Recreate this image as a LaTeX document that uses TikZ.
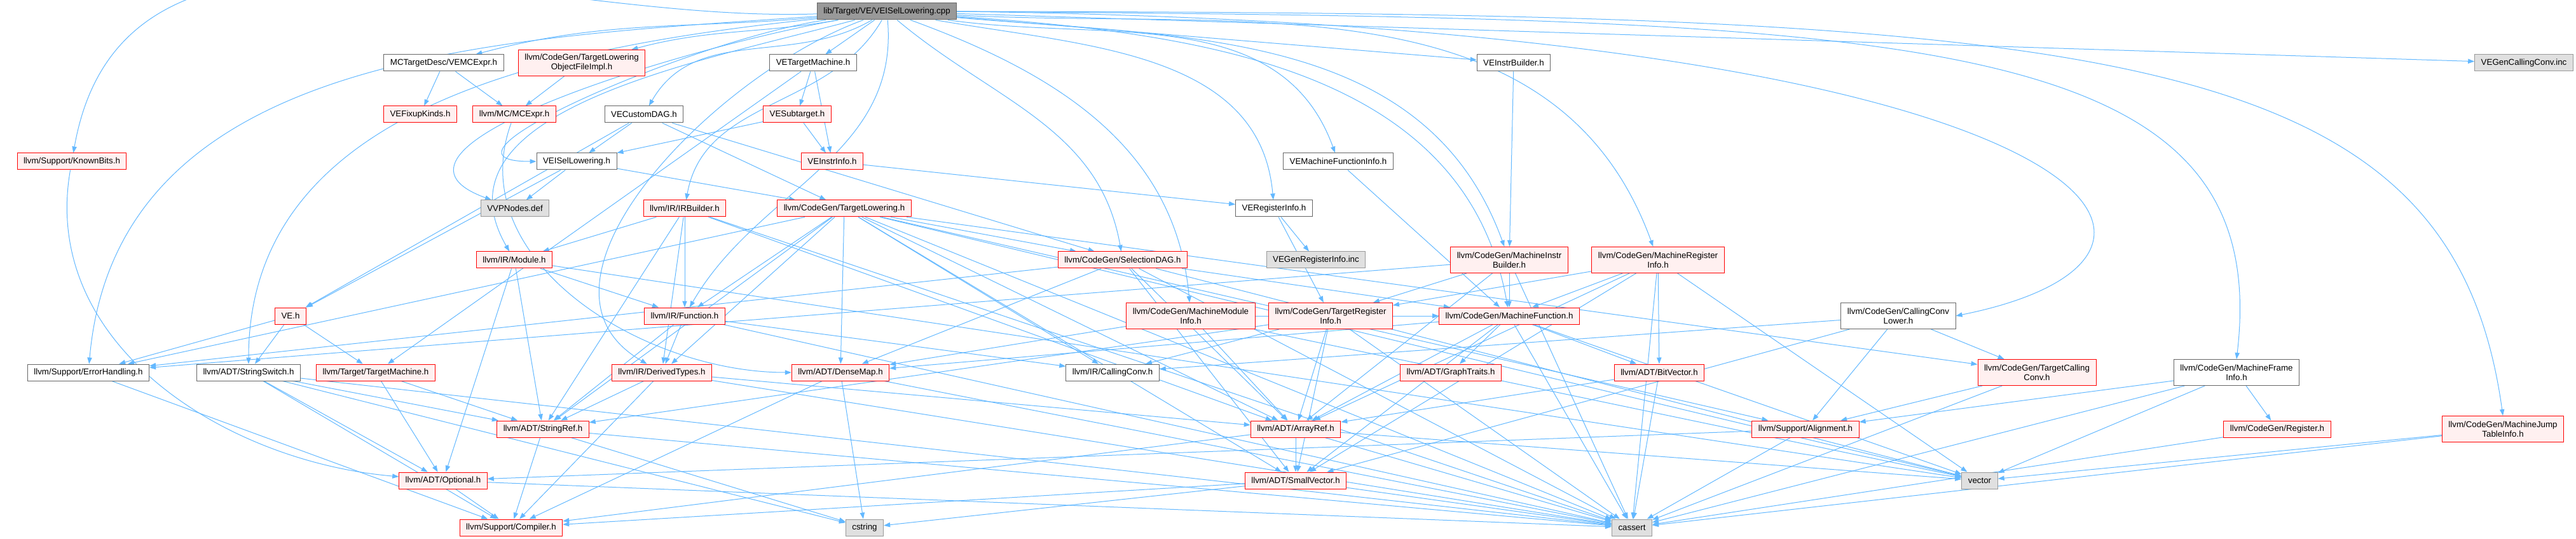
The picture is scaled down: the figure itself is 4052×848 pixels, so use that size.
\documentclass[tikz,border=0pt]{standalone}
\usepackage{fontspec}
\setmainfont{Liberation Sans}
\usepackage{xcolor}
\usetikzlibrary{arrows.meta}

\definecolor{edgeblue}{HTML}{63B8FF}
\definecolor{boxred}{HTML}{FF0000}
\definecolor{boxpink}{HTML}{FFF0F0}
\definecolor{boxgrey}{HTML}{666666}
\definecolor{sysgrey}{HTML}{999999}
\definecolor{sysfill}{HTML}{E0E0E0}
\definecolor{rootfill}{HTML}{999999}

\pgfdeclarelayer{background}
\pgfsetlayers{background,main}

\begin{document}
\begin{tikzpicture}[
	x=0.75pt, y=-0.75pt,
	font=\fontsize{10}{11.25}\selectfont,
	incbox/.style = {draw, line width=0.75pt, inner xsep=7.5pt, inner ysep=0pt, minimum height=19.5pt, align=center},
	tall/.style = {minimum height=30.75pt},
	redbox/.style = {incbox, draw=boxred, fill=boxpink},
	whitebox/.style = {incbox, draw=boxgrey, fill=white},
	sysbox/.style = {incbox, draw=sysgrey, fill=sysfill},
	rootbox/.style = {incbox, draw=boxgrey, fill=rootfill},
	arrow/.style = {draw=edgeblue, line width=0.75pt, -{Triangle[length=7.5pt, width=5.5pt]}}
	]
	\useasboundingbox (0,0) rectangle (4052,848);

	\node[rootbox] (root) at (1395,18) {lib/Target/VE/VEISelLowering.cpp};

	\node[whitebox] (vemcexpr) at (698,99) {MCTargetDesc/VEMCExpr.h};
	\node[redbox, tall] (tlof) at (915,99) {llvm/CodeGen/TargetLowering\\ObjectFileImpl.h};
	\node[whitebox] (vetm) at (1279,99) {VETargetMachine.h};
	\node[whitebox] (veib) at (2381,99) {VEInstrBuilder.h};
	\node[sysbox] (vegencc) at (3970,99) {VEGenCallingConv.inc};

	\node[redbox] (fixup) at (661,180) {VEFixupKinds.h};
	\node[redbox] (mcexpr) at (809,180) {llvm/MC/MCExpr.h};
	\node[whitebox] (customdag) at (1013,180) {VECustomDAG.h};
	\node[redbox] (vesub) at (1254,180) {VESubtarget.h};

	\node[redbox] (knownbits) at (113,254) {llvm/Support/KnownBits.h};
	\node[whitebox] (veisel) at (907,254) {VEISelLowering.h};
	\node[redbox] (veinstr) at (1309,254) {VEInstrInfo.h};
	\node[whitebox] (vemfi) at (2105,254) {VEMachineFunctionInfo.h};

	\node[sysbox] (vvp) at (810,328) {VVPNodes.def};
	\node[redbox] (irb) at (1077,328) {llvm/IR/IRBuilder.h};
	\node[redbox] (tl) at (1328,328) {llvm/CodeGen/TargetLowering.h};
	\node[whitebox] (vereg) at (2004,328) {VERegisterInfo.h};

	\node[redbox] (module) at (809,409) {llvm/IR/Module.h};
	\node[redbox] (sdag) at (1766,409) {llvm/CodeGen/SelectionDAG.h};
	\node[sysbox] (vegenreg) at (2070,409) {VEGenRegisterInfo.inc};
	\node[redbox, tall] (mib) at (2374,409) {llvm/CodeGen/MachineInstr\\Builder.h};
	\node[redbox, tall] (mri) at (2608,409) {llvm/CodeGen/MachineRegister\\Info.h};

	\node[redbox] (veh) at (457,497) {VE.h};
	\node[redbox] (func) at (1077,497) {llvm/IR/Function.h};
	\node[redbox, tall] (mmi) at (1873,497) {llvm/CodeGen/MachineModule\\Info.h};
	\node[redbox, tall] (tri) at (2093,497) {llvm/CodeGen/TargetRegister\\Info.h};
	\node[redbox] (mf) at (2374,497) {llvm/CodeGen/MachineFunction.h};
	\node[whitebox, tall] (ccl) at (2986,497) {llvm/CodeGen/CallingConv\\Lower.h};

	\node[whitebox] (errh) at (139,586) {llvm/Support/ErrorHandling.h};
	\node[whitebox] (sswitch) at (391,586) {llvm/ADT/StringSwitch.h};
	\node[redbox] (tm) at (591,586) {llvm/Target/TargetMachine.h};
	\node[redbox] (dtypes) at (1041,586) {llvm/IR/DerivedTypes.h};
	\node[redbox] (densemap) at (1322,586) {llvm/ADT/DenseMap.h};
	\node[whitebox] (cconv) at (1750,586) {llvm/IR/CallingConv.h};
	\node[redbox] (graph) at (2282,586) {llvm/ADT/GraphTraits.h};
	\node[redbox] (bitvec) at (2610,586) {llvm/ADT/BitVector.h};
	\node[redbox, tall] (tcc) at (3204,586) {llvm/CodeGen/TargetCalling\\Conv.h};
	\node[whitebox, tall] (mfi) at (3518,586) {llvm/CodeGen/MachineFrame\\Info.h};

	\node[redbox] (strref) at (854,675) {llvm/ADT/StringRef.h};
	\node[redbox] (arrref) at (2038,675) {llvm/ADT/ArrayRef.h};
	\node[redbox] (align) at (2840,675) {llvm/Support/Alignment.h};
	\node[redbox] (reg) at (3582,675) {llvm/CodeGen/Register.h};
	\node[redbox, tall] (mjti) at (3937,675) {llvm/CodeGen/MachineJump\\TableInfo.h};

	\node[redbox] (optional) at (697,756) {llvm/ADT/Optional.h};
	\node[redbox] (smallvec) at (2038,756) {llvm/ADT/SmallVector.h};
	\node[sysbox] (vector) at (3114,756) {vector};

	\node[redbox] (compiler) at (804,830) {llvm/Support/Compiler.h};
	\node[sysbox] (cstring) at (1360,830) {cstring};
	\node[sysbox] (cassert) at (2567,830) {cassert};

	\begin{pgfonlayer}{background}
	\draw[arrow] (root) to[out=182,in=80] (knownbits);
	\draw[arrow] (root) to[out=184,in=85] (errh);
	\draw[arrow] (root) to[out=186,in=90] (sswitch);
	\draw[arrow] (root) to[out=188,in=180] (veisel);
	\draw[arrow] (root) to[out=190,in=160] (vvp);
	\draw[arrow] (root) to[out=195,in=120] (module);
	\draw[arrow] (root) to[out=-160,in=150] (dtypes);
	\draw[arrow] (root) to[out=185,in=15] (vemcexpr);
	\draw[arrow] (root) to[out=190,in=15] (tlof);
	\draw[arrow] (root) -- (vetm);
	\draw[arrow] (root) to[out=-150,in=60] (customdag);
	\draw[arrow] (root) to[out=-120,in=80] (irb);
	\draw[arrow] (root) to[out=-85,in=60] (func);
	\draw[arrow] (root) to[out=-40,in=100] (sdag);
	\draw[arrow] (root) to[out=-20,in=95] (mmi);
	\draw[arrow] (root) to[out=-10,in=95] (vereg);
	\draw[arrow] (root) to[out=-8,in=110] (vemfi);
	\draw[arrow] (root) -- (veib);
	\draw[arrow] (root) to[out=-5,in=110] (mib);
	\draw[arrow] (root) to[out=-4,in=100] (mf);
	\draw[arrow] (root) to[out=-3,in=110] (mri);
	\draw[arrow] (root.east) .. controls (3300,40) and (3560,400) .. (ccl.east);
	\draw[arrow] (root.east) .. controls (3000,30) and (3580,40) .. (mfi.north);
	\draw[arrow] (root.east) .. controls (3300,20) and (3855,60) .. (mjti.north);
	\draw[arrow] (root) -- (vegencc);

	\draw[arrow] (vemcexpr) -- (fixup);
	\draw[arrow] (vemcexpr) -- (mcexpr);
	\draw[arrow] (tlof) -- (mcexpr);
	\draw[arrow] (vetm) -- (vesub);
	\draw[arrow] (vetm) -- (veinstr);
	\draw[arrow] (vetm) -- (tm);
	\draw[arrow] (vesub) -- (veisel);
	\draw[arrow] (vesub) -- (veinstr);
	\draw[arrow] (customdag) -- (veisel);
	\draw[arrow] (customdag) -- (veh);
	\draw[arrow] (customdag) -- (tl);
	\draw[arrow] (customdag) -- (sdag);
	\draw[arrow] (veisel) -- (vvp);
	\draw[arrow] (veisel) -- (veh);
	\draw[arrow] (veisel) -- (tl);
	\draw[arrow] (veinstr) -- (vereg);
	\draw[arrow] (vemfi) -- (mf);
	\draw[arrow] (veib) -- (mib);
	\draw[arrow] (vereg) -- (vegenreg);
	\draw[arrow] (vereg) -- (tri);
	\draw[arrow] (mcexpr) to[out=-110,in=180] (densemap);

	\draw[arrow] (veh) -- (errh);
	\draw[arrow] (veh) -- (sswitch);
	\draw[arrow] (veh) -- (tm);
	\draw[arrow] (knownbits) to[out=-100,in=175] (optional);
	\draw[arrow] (errh) -- (compiler);
	\draw[arrow] (sswitch) -- (strref);
	\draw[arrow] (sswitch) -- (compiler);
	\draw[arrow] (sswitch) -- (optional);
	\draw[arrow] (sswitch) -- (cstring);
	\draw[arrow] (sswitch) -- (cassert);
	\draw[arrow] (tm) -- (optional);
	\draw[arrow] (tm) -- (strref);
	\draw[arrow] (optional) -- (compiler);
	\draw[arrow] (optional) -- (cassert);
	\draw[arrow] (strref) -- (compiler);
	\draw[arrow] (strref) -- (cstring);
	\draw[arrow] (strref) -- (cassert);

	\draw[arrow] (irb) -- (module);
	\draw[arrow] (irb) -- (func);
	\draw[arrow] (irb) -- (dtypes);
	\draw[arrow] (irb) -- (strref);
	\draw[arrow] (irb) -- (arrref);
	\draw[arrow] (irb) -- (cassert);
	\draw[arrow] (module) -- (func);
	\draw[arrow] (module) -- (strref);
	\draw[arrow] (module) -- (optional);
	\draw[arrow] (module) -- (vector);
	\draw[arrow] (func) -- (strref);
	\draw[arrow] (func) -- (cconv);
	\draw[arrow] (func) -- (dtypes);
	\draw[arrow] (func) -- (cassert);
	\draw[arrow] (dtypes) -- (strref);
	\draw[arrow] (dtypes) -- (compiler);
	\draw[arrow] (dtypes) -- (arrref);
	\draw[arrow] (dtypes) -- (cassert);

	\draw[arrow] (tl) -- (arrref);
	\draw[arrow] (tl) -- (densemap);
	\draw[arrow] (tl) -- (smallvec);
	\draw[arrow] (tl) -- (strref);
	\draw[arrow] (tl) -- (sdag);
	\draw[arrow] (tl) -- (tcc);
	\draw[arrow] (tl) -- (cconv);
	\draw[arrow] (tl) -- (dtypes);
	\draw[arrow] (tl) -- (func);
	\draw[arrow] (tl) -- (errh);
	\draw[arrow] (tl) -- (align);
	\draw[arrow] (tl) -- (cassert);
	\draw[arrow] (tl) -- (vector);

	\draw[arrow] (sdag) -- (arrref);
	\draw[arrow] (sdag) -- (densemap);
	\draw[arrow] (sdag) -- (smallvec);
	\draw[arrow] (sdag) -- (mf);
	\draw[arrow] (sdag) -- (errh);
	\draw[arrow] (sdag) -- (cassert);
	\draw[arrow] (sdag) -- (vector);
	\draw[arrow] (mmi) -- (arrref);
	\draw[arrow] (mmi) -- (densemap);
	\draw[arrow] (mmi) -- (mf);
	\draw[arrow] (mmi) -- (vector);
	\draw[arrow] (tri) -- (arrref);
	\draw[arrow] (tri) -- (smallvec);
	\draw[arrow] (tri) -- (strref);
	\draw[arrow] (tri) -- (cconv);
	\draw[arrow] (tri) -- (cassert);

	\draw[arrow] (mf) -- (arrref);
	\draw[arrow] (mf) -- (bitvec);
	\draw[arrow] (mf) -- (densemap);
	\draw[arrow] (mf) -- (graph);
	\draw[arrow] (mf) -- (smallvec);
	\draw[arrow] (mf) -- (cassert);
	\draw[arrow] (mf) -- (vector);
	\draw[arrow] (mib) -- (arrref);
	\draw[arrow] (mib) -- (mf);
	\draw[arrow] (mib) -- (tri);
	\draw[arrow] (mib) -- (errh);
	\draw[arrow] (mib) -- (cassert);
	\draw[arrow] (mri) -- (arrref);
	\draw[arrow] (mri) -- (bitvec);
	\draw[arrow] (mri) -- (smallvec);
	\draw[arrow] (mri) -- (mf);
	\draw[arrow] (mri) -- (tri);
	\draw[arrow] (mri) -- (cassert);
	\draw[arrow] (mri) -- (vector);

	\draw[arrow] (ccl) -- (smallvec);
	\draw[arrow] (ccl) -- (tcc);
	\draw[arrow] (ccl) -- (cconv);
	\draw[arrow] (ccl) -- (align);
	\draw[arrow] (tcc) -- (align);
	\draw[arrow] (tcc) -- (cassert);
	\draw[arrow] (mfi) -- (reg);
	\draw[arrow] (mfi) -- (align);
	\draw[arrow] (mfi) -- (cassert);
	\draw[arrow] (mfi) -- (vector);
	\draw[arrow] (mjti) -- (cassert);
	\draw[arrow] (mjti) -- (vector);
	\draw[arrow] (reg) -- (cassert);
	\draw[arrow] (bitvec) -- (arrref);
	\draw[arrow] (bitvec) -- (cassert);
	\draw[arrow] (align) -- (optional);
	\draw[arrow] (align) -- (cassert);

	\draw[arrow] (arrref) -- (smallvec);
	\draw[arrow] (arrref) -- (compiler);
	\draw[arrow] (arrref) -- (cassert);
	\draw[arrow] (arrref) -- (vector);
	\draw[arrow] (smallvec) -- (compiler);
	\draw[arrow] (smallvec) -- (cassert);
	\draw[arrow] (smallvec) -- (cstring);
	\draw[arrow] (densemap) -- (compiler);
	\draw[arrow] (densemap) -- (cassert);
	\draw[arrow] (densemap) -- (cstring);
	\end{pgfonlayer}
\end{tikzpicture}
\end{document}
